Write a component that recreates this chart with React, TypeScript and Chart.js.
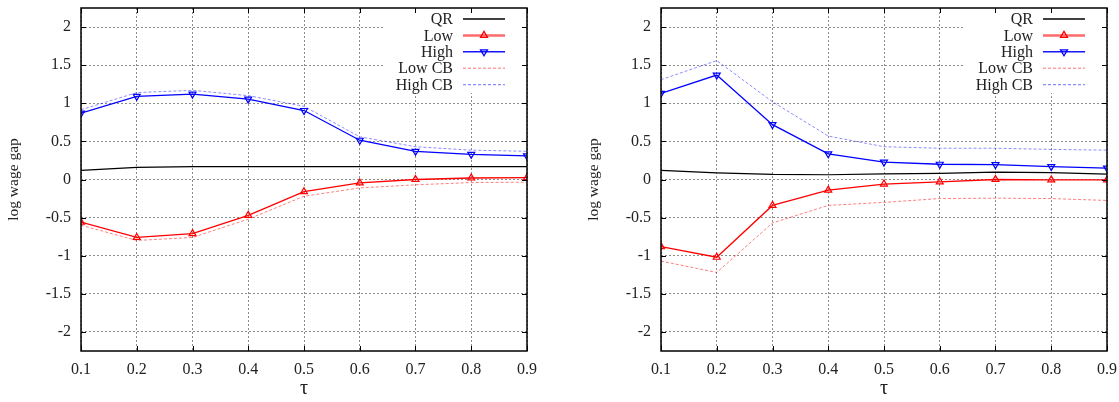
import React, { useEffect, useRef } from 'react';
import { Chart, registerables } from 'chart.js';

Chart.register(...registerables);

// ---- data ----
const taus = [0.1, 0.2, 0.3, 0.4, 0.5, 0.6, 0.7, 0.8, 0.9];
const xTicks = [0.1, 0.2, 0.3, 0.4, 0.5, 0.6, 0.7, 0.8, 0.9];
const yTicks = [-2, -1.5, -1, -0.5, 0, 0.5, 1, 1.5, 2];
const seriesLabels = ['QR', 'Low', 'High', 'Low CB', 'High CB'];

const leftQR = [0.12, 0.16, 0.17, 0.17, 0.17, 0.17, 0.17, 0.17, 0.17];
const leftLow = [-0.56, -0.76, -0.71, -0.47, -0.16, -0.045, 0.0, 0.02, 0.025];
const leftHigh = [0.87, 1.09, 1.12, 1.055, 0.905, 0.515, 0.37, 0.33, 0.31];
const leftLowCB = [-0.6, -0.8, -0.76, -0.52, -0.22, -0.11, -0.07, -0.04, -0.035];
const leftHighCB = [0.915, 1.14, 1.17, 1.1, 0.96, 0.56, 0.43, 0.385, 0.37];

const rightQR = [0.12, 0.088, 0.066, 0.062, 0.075, 0.08, 0.097, 0.09, 0.07];
const rightLow = [-0.88, -1.02, -0.34, -0.14, -0.06, -0.03, 0.0, -0.005, -0.005];
const rightHigh = [1.13, 1.37, 0.72, 0.337, 0.228, 0.2, 0.195, 0.17, 0.15];
const rightLowCB = [-1.07, -1.22, -0.57, -0.34, -0.3, -0.25, -0.245, -0.25, -0.275];
const rightHighCB = [1.31, 1.56, 1.02, 0.57, 0.43, 0.41, 0.41, 0.395, 0.385];

const FONT = "'Liberation Serif', 'DejaVu Serif', serif";

type Style = {
  color: string;
  width: number;
  dash: number[];
  marker: null | 'up' | 'down';
  keyColor: string;
  keyWidth: number;
};

const styles: Style[] = [
  { color: '#000000', width: 1.2, dash: [], marker: null, keyColor: '#000000', keyWidth: 1.3 },
  { color: '#ff0000', width: 1.3, dash: [], marker: 'up', keyColor: '#ff6b6b', keyWidth: 2.5 },
  { color: '#0000ff', width: 1.3, dash: [], marker: 'down', keyColor: '#1515ff', keyWidth: 1.6 },
  { color: 'rgba(255,0,0,0.5)', width: 1, dash: [3, 2], marker: null, keyColor: 'rgba(255,0,0,0.55)', keyWidth: 1 },
  { color: 'rgba(0,0,255,0.45)', width: 1, dash: [3, 2], marker: null, keyColor: 'rgba(0,0,255,0.45)', keyWidth: 1.3 },
];

function drawTri(ctx: CanvasRenderingContext2D, x: number, y: number, r: number, dir: 'up' | 'down') {
  const s = dir === 'up' ? 1 : -1;
  ctx.beginPath();
  ctx.moveTo(x, y - s * r);
  ctx.lineTo(x + r * 0.866, y + s * r * 0.5);
  ctx.lineTo(x - r * 0.866, y + s * r * 0.5);
  ctx.closePath();
  ctx.stroke();
}

const gnuFrame = {
  id: 'gnuFrame',
  beforeDatasetsDraw(chart: any) {
    const { ctx, chartArea: a } = chart;
    ctx.save();
    ctx.fillStyle = '#ffffff';
    ctx.fillRect(a.right - 144, a.top, 144, 85);
    ctx.restore();
  },
  afterDraw(chart: any) {
    const { ctx, chartArea: a, scales } = chart;
    ctx.save();
    ctx.setLineDash([]);
    ctx.strokeStyle = '#000';
    ctx.lineWidth = 1;
    ctx.beginPath();
    for (const v of yTicks) {
      const y = Math.round(scales.y.getPixelForValue(v)) + 0.5;
      ctx.moveTo(a.left, y);
      ctx.lineTo(a.left + 5, y);
      ctx.moveTo(a.right, y);
      ctx.lineTo(a.right - 5, y);
    }
    for (const v of xTicks) {
      const x = Math.round(scales.x.getPixelForValue(v)) + 0.5;
      ctx.moveTo(x, a.top);
      ctx.lineTo(x, a.top + 5);
      ctx.moveTo(x, a.bottom);
      ctx.lineTo(x, a.bottom - 5);
    }
    ctx.stroke();
    ctx.lineWidth = 1.5;
    ctx.strokeRect(a.left, a.top, a.right - a.left, a.bottom - a.top);

    // key
    ctx.font = `16px ${FONT}`;
    ctx.textAlign = 'right';
    ctx.textBaseline = 'middle';
    seriesLabels.forEach((label, i) => {
      const st = styles[i];
      const y = a.top + 11 + i * 16.4;
      ctx.fillStyle = '#222';
      ctx.fillText(label, a.right - 74, y + 1);
      ctx.strokeStyle = st.keyColor;
      ctx.lineWidth = st.keyWidth;
      ctx.setLineDash(st.dash);
      ctx.beginPath();
      ctx.moveTo(a.right - 64, y);
      ctx.lineTo(a.right - 22, y);
      ctx.stroke();
      ctx.setLineDash([]);
      if (st.marker) {
        ctx.strokeStyle = st.color;
        ctx.lineWidth = 1.3;
        drawTri(ctx, a.right - 43, y, 4, st.marker);
      }
    });
    ctx.restore();
  },
};

type PanelProps = {
  left: number;
  width: number;
  yAxisWidth: number;
  rightPad: number;
  titlePad: number;
  series: number[][];
};

function Panel({ left, width, yAxisWidth, rightPad, titlePad, series }: PanelProps) {
  const ref = useRef<HTMLCanvasElement | null>(null);
  useEffect(() => {
    if (!ref.current) return;
    const datasets = series.map((vals, i) => {
      const st = styles[i];
      return {
        label: seriesLabels[i],
        data: taus.map((t, j) => ({ x: t, y: vals[j] })),
        borderColor: st.color,
        borderWidth: st.width,
        borderDash: st.dash,
        pointRadius: st.marker ? 4 : 0,
        pointStyle: 'triangle',
        rotation: st.marker === 'down' ? 180 : 0,
        pointBorderColor: st.color,
        pointBackgroundColor: 'rgba(0,0,0,0)',
        pointBorderWidth: 1.2,
        tension: 0,
        fill: false,
        order: i >= 3 ? 10 : i,
      };
    });
    const chart = new Chart(ref.current, {
      type: 'line',
      data: { datasets },
      plugins: [gnuFrame],
      options: {
        animation: false,
        responsive: false,
        maintainAspectRatio: false,
        layout: { padding: { top: 8, right: rightPad, left: 0, bottom: 0 } },
        plugins: { legend: { display: false }, tooltip: { enabled: false } },
        scales: {
          x: {
            type: 'linear',
            min: 0.1,
            max: 0.9,
            afterBuildTicks: (s: any) => {
              s.ticks = xTicks.map((v) => ({ value: v }));
            },
            afterFit: (s: any) => {
              s.height = 51;
              s.paddingLeft = 0;
              s.paddingRight = 0;
            },
            grid: { color: 'rgba(0,0,0,0.45)', lineWidth: 1, drawTicks: false },
            border: { display: false, dash: [2, 2] },
            ticks: {
              padding: 9,
              color: '#222',
              font: { family: FONT, size: 16 },
              maxRotation: 0,
              autoSkip: false,
              callback: (v: any) => String(v),
            },
            title: {
              display: true,
              text: 'τ',
              color: '#222',
              font: { family: FONT, size: 20 },
              padding: { top: 0, bottom: 1 },
            },
          },
          y: {
            type: 'linear',
            min: -2.25,
            max: 2.25,
            afterBuildTicks: (s: any) => {
              s.ticks = yTicks.map((v) => ({ value: v }));
            },
            afterFit: (s: any) => {
              s.width = yAxisWidth;
              s.paddingTop = 0;
              s.paddingBottom = 0;
            },
            grid: { color: 'rgba(0,0,0,0.45)', lineWidth: 1, drawTicks: false },
            border: { display: false, dash: [2, 2] },
            ticks: {
              padding: 10,
              color: '#222',
              font: { family: FONT, size: 16 },
              autoSkip: false,
              callback: (v: any) => String(v),
            },
            title: {
              display: true,
              text: 'log wage gap',
              color: '#222',
              font: { family: FONT, size: 15.5 },
              padding: { top: titlePad, bottom: 0 },
            },
          },
        },
      } as any,
    });
    return () => chart.destroy();
  }, []);
  return (
    <canvas
      ref={ref}
      width={width}
      height={402}
      style={{ position: 'absolute', left, top: 0, width, height: 402 }}
    />
  );
}

export default function App() {
  return (
    <div style={{ position: 'absolute', left: 0, top: 0, width: 1119, height: 402, background: '#fff' }}>
      <Panel
        left={0}
        width={560}
        yAxisWidth={81}
        rightPad={33}
        titlePad={5}
        series={[leftQR, leftLow, leftHigh, leftLowCB, leftHighCB]}
      />
      <Panel
        left={560}
        width={559}
        yAxisWidth={101}
        rightPad={12}
        titlePad={25}
        series={[rightQR, rightLow, rightHigh, rightLowCB, rightHighCB]}
      />
    </div>
  );
}
